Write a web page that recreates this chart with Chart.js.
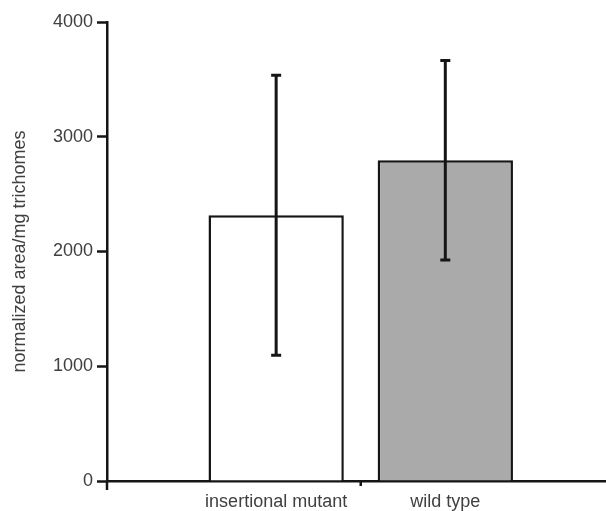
<!DOCTYPE html>
<html>
<head>
<meta charset="utf-8">
<script src="https://cdn.jsdelivr.net/npm/chart.js@4.4.0/dist/chart.umd.min.js"></script>
<style>
  html, body { margin: 0; padding: 0; background: #fff; }
  #wrap { width: 606px; height: 511px; }
</style>
</head>
<body>
<div id="wrap"><canvas id="c" width="606" height="511"></canvas></div>
<script>
// ---- data ----
const categories = ['insertional mutant', 'wild type'];
const means = [2315, 2795];
const errors = [1220, 870];
const barColors = ['#ffffff', '#aaaaaa'];
const yTicks = [0, 1000, 2000, 3000, 4000];
const yTitle = 'normalized area/mg trichomes';

const positions = categories.map((c, i) => i + 1);
const boundary = 1.5;

const errorBars = {
  id: 'errorBars',
  afterDatasetsDraw(chart) {
    const ctx = chart.ctx;
    const meta = chart.getDatasetMeta(0);
    const y = chart.scales.y;
    const x = chart.scales.x;
    ctx.save();
    ctx.strokeStyle = '#151515';
    ctx.lineWidth = 3;
    meta.data.forEach((bar, i) => {
      const top = y.getPixelForValue(means[i] + errors[i]);
      const bot = y.getPixelForValue(means[i] - errors[i]);
      ctx.beginPath();
      ctx.moveTo(bar.x, top); ctx.lineTo(bar.x, bot);
      ctx.moveTo(bar.x - 5, top); ctx.lineTo(bar.x + 5, top);
      ctx.moveTo(bar.x - 5, bot); ctx.lineTo(bar.x + 5, bot);
      ctx.stroke();
    });
    const a = chart.chartArea;
    ctx.lineWidth = 2.5;
    ctx.beginPath();
    // y axis extension below the x axis
    ctx.moveTo(a.left, a.bottom); ctx.lineTo(a.left, a.bottom + 9);
    // category boundary tick
    const bx = x.getPixelForValue(boundary);
    ctx.moveTo(bx, a.bottom); ctx.lineTo(bx, a.bottom + 5);
    ctx.stroke();
    ctx.restore();
  }
};

new Chart(document.getElementById('c'), {
  type: 'bar',
  data: {
    datasets: [{
      data: categories.map((c, i) => ({ x: positions[i], y: means[i] })),
      backgroundColor: barColors,
      borderColor: '#151515',
      borderWidth: 2.5,
      borderSkipped: 'bottom',
      categoryPercentage: 1,
      barPercentage: 0.8
    }]
  },
  options: {
    responsive: false,
    animation: false,
    layout: { padding: { top: 22, right: 0, bottom: 0, left: 0 } },
    plugins: { legend: { display: false }, tooltip: { enabled: false } },
    scales: {
      x: {
        type: 'linear',
        offset: false,
        min: 0,
        max: 2.95,
        afterBuildTicks(scale) {
          scale.ticks = positions.map(v => ({ value: v }));
        },
        afterFit(scale) { scale.height = 30; },
        ticks: {
          autoSkip: false,
          maxRotation: 0,
          padding: 3,
          color: '#404040',
          font: { family: 'Liberation Sans, Arial, sans-serif', size: 18 },
          callback: (v) => {
            const i = positions.indexOf(v);
            return i >= 0 ? categories[i] : '';
          }
        },
        grid: {
          offset: false,
          drawOnChartArea: false,
          drawTicks: true,
          tickLength: 7,
          tickColor: 'rgba(0,0,0,0)'
        },
        border: { display: true, color: '#151515', width: 2.5 }
      },
      y: {
        min: 0,
        max: 4000,
        afterBuildTicks(scale) { scale.ticks = yTicks.map(v => ({ value: v })); },
        afterFit(scale) { scale.width = 107; },
        title: {
          display: true,
          text: yTitle,
          color: '#404040',
          font: { family: 'Liberation Sans, Arial, sans-serif', size: 18 },
          padding: { top: 9, bottom: 0 }
        },
        ticks: {
          padding: 4,
          color: '#404040',
          font: { family: 'Liberation Sans, Arial, sans-serif', size: 18 },
          callback: (v) => String(v)
        },
        grid: {
          drawOnChartArea: false,
          drawTicks: true,
          tickLength: 10,
          tickWidth: 2.5,
          tickColor: '#151515'
        },
        border: { display: true, color: '#151515', width: 2.5 }
      }
    }
  },
  plugins: [errorBars]
});
</script>
</body>
</html>
